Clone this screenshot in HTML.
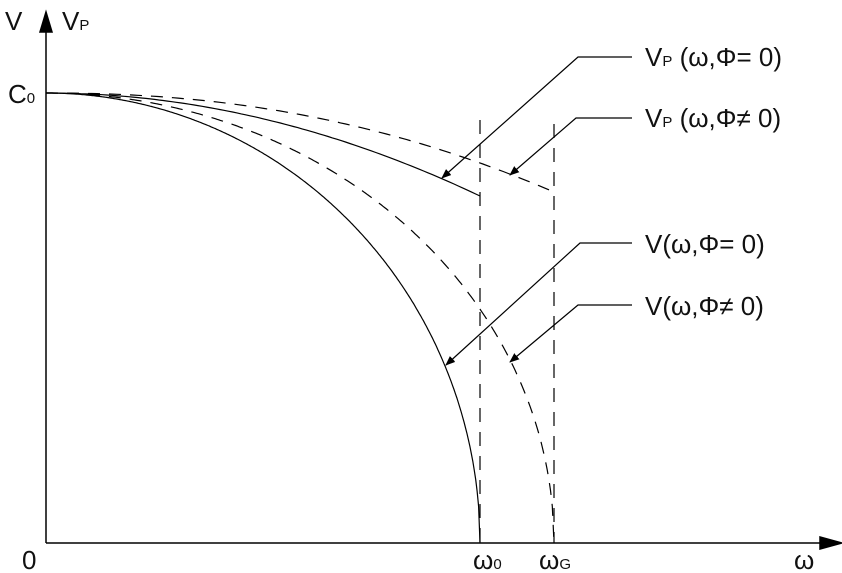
<!DOCTYPE html><html><head><style>body{margin:0;background:#fff}svg{display:block}text{font-family:"Liberation Sans",sans-serif;fill:#111}</style></head><body>
<svg width="842" height="573" viewBox="0 0 842 573">
<defs><marker id="a" markerWidth="10" markerHeight="8" refX="9" refY="4" orient="auto" markerUnits="userSpaceOnUse"><path d="M0,0L10,4L0,8Z" fill="#000"/></marker></defs>
<g stroke="#000" stroke-width="1.5" fill="none">
<line x1="46" y1="543" x2="46" y2="30"/><path d="M40,32L46,12L52,32Z" fill="#000"/>
<line x1="46" y1="543" x2="822" y2="543"/><path d="M820,537L842,543L820,549Z" fill="#000"/>
<g stroke-width="1.2">
<line x1="480" y1="120" x2="480" y2="543" stroke-dasharray="14,10"/>
<line x1="554" y1="124" x2="554" y2="543" stroke-dasharray="14,10"/>
</g></g>
<g id="curves" fill="none" stroke="#000" stroke-width="1.2"></g>
<g stroke="#000" stroke-width="1.2" fill="none">
<polyline points="632,57 578,57 442,178" marker-end="url(#a)"/>
<polyline points="632,118 576,118 510,175" marker-end="url(#a)"/>
<polyline points="632,243 580,243 446,365" marker-end="url(#a)"/>
<polyline points="632,305 578,305 510,362" marker-end="url(#a)"/>
</g>
<g font-size="26">
<text x="5" y="30">V</text><text x="62" y="30">V<tspan font-size="15">P</tspan></text>
<text x="8" y="103">C<tspan font-size="15">0</tspan></text>
<text x="22" y="569">0</text>
<text x="473" y="569">ω<tspan font-size="15">0</tspan></text>
<text x="539" y="569">ω<tspan font-size="15">G</tspan></text>
<text x="794" y="569">ω</text>
<text x="645" y="66">V<tspan font-size="15">P</tspan> (ω,Φ= 0)</text>
<text x="645" y="127">V<tspan font-size="15">P</tspan> (ω,Φ≠ 0)</text>
<text x="645" y="253">V(ω,Φ= 0)</text>
<text x="645" y="315">V(ω,Φ≠ 0)</text>
</g>
</svg>
<script>
(function(){var g=document.getElementById('curves');
function P(f,a,n){var s='';for(var i=0;i<=n;i++){var t=i/n,x=46+a*t,y=f(t);s+=(i?'L':'M')+x.toFixed(1)+','+y.toFixed(1);}return s;}
function add(d,dash){var p=document.createElementNS('http://www.w3.org/2000/svg','path');p.setAttribute('d',d);if(dash)p.setAttribute('stroke-dasharray','12,9');g.appendChild(p);}
add(P(function(t){return 93+450*(1-Math.sqrt(Math.max(0,1-t*t)));},434,300));
add(P(function(t){return 93+450*(1-Math.sqrt(Math.max(0,1-t*t)));},508,300),1);
add(P(function(t){return 93+103*t*t;},434,100));
add(P(function(t){return 93+99*Math.pow(t,2.2);},508,100),1);
})();
</script>
</body></html>
